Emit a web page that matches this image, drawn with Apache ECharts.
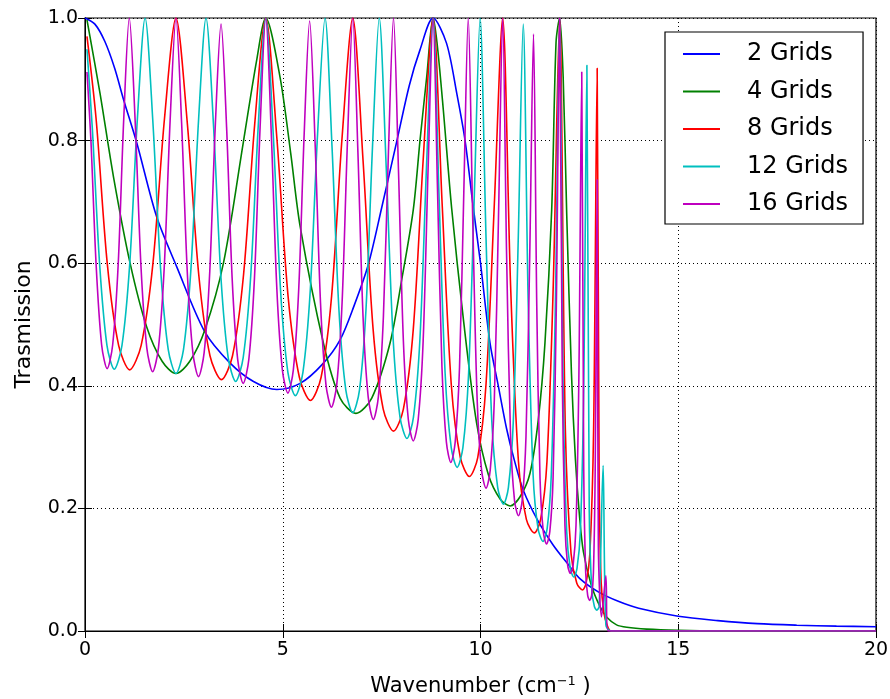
<!DOCTYPE html>
<html><head><meta charset="utf-8">
<script src="https://cdn.jsdelivr.net/npm/echarts@6/dist/echarts.min.js"></script>
<style>html,body{margin:0;padding:0;background:#fff}#c{width:890px;height:699px}</style>
</head><body><div id="c"></div>
<script>
const xTickValues=[0,5,10,15,20];
const yTickValues=[0,0.2,0.4,0.6,0.8,1.0];
const seriesNames=['2 Grids','4 Grids','8 Grids','12 Grids','16 Grids'];
const seriesColors=['#0000ff','#008000','#ff0000','#00bfbf','#bf00bf'];

const grids2=[[0,1.0],[0.25,0.99],[0.5,0.962],[0.75,0.918],[0.97,0.868],[1.31,0.796],[1.81,0.676],[2.32,0.594],[3.03,0.488],[3.67,0.437],[4.26,0.407],[4.85,0.394],[5.44,0.404],[6.0,0.435],[6.45,0.475],[6.8,0.53],[7.16,0.597],[7.5,0.69],[7.88,0.798],[8.2,0.89],[8.47,0.948],[8.8,1.0],[9.14,0.959],[9.4,0.877],[9.61,0.8],[9.8,0.70],[10.0,0.6],[10.24,0.47],[10.45,0.40],[10.66,0.33],[10.85,0.28],[11.08,0.23],[11.45,0.18],[11.84,0.14],[12.2,0.11],[12.52,0.085],[13.0,0.063],[13.5,0.048],[14,0.037],[15,0.024],[16,0.017],[17,0.012],[18,0.0095],[19,0.008],[20,0.007]];

const grids4=[[0.05,0.997],[0.38,0.877],[0.72,0.741],[1.14,0.6],[1.56,0.496],[1.95,0.44],[2.3,0.42],[2.65,0.44],[3.03,0.491],[3.5,0.6],[4.0,0.796],[4.34,0.931],[4.57,1.0],[4.93,0.904],[5.2,0.78],[5.44,0.66],[6.03,0.469],[6.45,0.38],[6.85,0.355],[7.25,0.38],[7.71,0.469],[8.0,0.57],[8.3,0.687],[8.47,0.80],[8.64,0.904],[8.8,1.0],[8.9,0.96],[9.06,0.85],[9.27,0.69],[9.57,0.507],[9.9,0.34],[10.2,0.255],[10.5,0.215],[10.75,0.204],[11.0,0.219],[11.25,0.257],[11.46,0.344],[11.63,0.47],[11.8,0.687],[11.91,0.96],[12.0,1.0],[12.09,0.904],[12.18,0.68],[12.3,0.42],[12.4,0.28],[12.5,0.19],[12.6,0.13],[12.8,0.075],[13.02,0.04],[13.2,0.022],[13.44,0.01],[13.7,0.006],[14.2,0.003],[15,0.001],[16,0],[20,0]];

const grids8=[[0.05,0.97],[0.28,0.836],[0.565,0.598],[0.85,0.466],[1.13,0.426],
[1.42,0.466],[1.715,0.598],[2.01,0.836],[2.3,1.0],
[2.59,0.826],[2.875,0.582],[3.16,0.449],[3.45,0.41],
[3.73,0.449],[4.01,0.582],[4.29,0.826],[4.57,1.0],
[4.85,0.805],[5.135,0.546],[5.42,0.414],[5.7,0.376],
[5.97,0.414],[6.235,0.546],[6.5,0.805],[6.77,1.0],
[7.03,0.768],[7.285,0.492],[7.54,0.362],[7.8,0.326],
[8.05,0.362],[8.3,0.492],[8.55,0.768],[8.8,1.0],
[9.03,0.697],[9.26,0.403],[9.49,0.283],[9.72,0.252],
[9.93,0.283],[10.14,0.403],[10.35,0.697],[10.56,1.0],
[10.76,0.565],[10.96,0.276],[11.16,0.182],[11.36,0.16],
[11.52,0.182],[11.68,0.276],[11.84,0.565],[12.0,1.0],
[12.145,0.329],[12.29,0.126],[12.435,0.078],[12.58,0.067],
[12.67,0.078],[12.765,0.126],[12.86,0.329],[12.95,0.918],
[13.0,0.25],[13.05,0.08],[13.12,0.03],[13.2,0.01],[13.3,0],[20,0]];

const grids12=[[0.05,0.949],[0.185,0.82],[0.37,0.598],[0.555,0.466],[0.74,0.427],
[0.935,0.466],[1.13,0.598],[1.325,0.836],[1.52,1.0],
[1.715,0.832],[1.91,0.592],[2.105,0.459],[2.3,0.42],
[2.49,0.459],[2.68,0.592],[2.87,0.832],[3.06,1.0],
[3.25,0.824],[3.435,0.579],[3.62,0.446],[3.81,0.407],
[4.0,0.446],[4.19,0.579],[4.38,0.824],[4.57,1.0],
[4.76,0.81],[4.945,0.555],[5.13,0.422],[5.32,0.384],
[5.51,0.422],[5.695,0.555],[5.88,0.81],[6.07,1.0],
[6.245,0.791],[6.42,0.525],[6.595,0.393],[6.77,0.356],
[6.94,0.393],[7.105,0.525],[7.27,0.791],[7.44,1.0],
[7.615,0.758],[7.79,0.478],[7.965,0.349],[8.14,0.314],
[8.305,0.349],[8.47,0.478],[8.635,0.758],[8.8,1.0],
[8.95,0.713],[9.105,0.421],[9.26,0.299],[9.41,0.267],
[9.555,0.299],[9.7,0.421],[9.845,0.713],[9.99,1.0],
[10.14,0.641],[10.285,0.343],[10.435,0.234],[10.58,0.207],
[10.705,0.234],[10.83,0.343],[10.955,0.641],[11.08,0.99],
[11.205,0.539],[11.33,0.255],[11.455,0.167],[11.58,0.146],
[11.685,0.167],[11.79,0.255],[11.895,0.539],[12.0,1.0],
[12.09,0.397],[12.18,0.162],[12.27,0.102],[12.36,0.088],
[12.44,0.102],[12.525,0.162],[12.61,0.397],[12.69,0.923],
[12.75,0.194],[12.815,0.066],[12.88,0.04],[12.94,0.034],
[13.0,0.04],[13.1,0.27],[13.17,0.01],[13.3,0],[20,0]];

const grids16=[[0.05,0.912],[0.15,0.80],[0.28,0.599],[0.42,0.467],[0.56,0.428],
[0.70,0.467],[0.84,0.599],[0.98,0.836],[1.12,1.0],
[1.2675,0.833],[1.415,0.595],[1.5625,0.462],[1.71,0.423],
[1.8575,0.462],[2.005,0.595],[2.1525,0.833],[2.3,1.0],
[2.4425,0.829],[2.585,0.587],[2.7275,0.454],[2.87,0.415],
[3.0125,0.454],[3.155,0.587],[3.2975,0.829],[3.44,0.99],
[3.58,0.822],[3.72,0.576],[3.86,0.443],[4.0,0.404],
[4.1425,0.443],[4.285,0.576],[4.4275,0.822],[4.57,1.0],
[4.71,0.812],[4.85,0.559],[4.99,0.426],[5.13,0.388],
[5.2675,0.426],[5.405,0.559],[5.5425,0.812],[5.68,0.995],
[5.8175,0.797],[5.955,0.535],[6.0925,0.402],[6.23,0.365],
[6.365,0.402],[6.5,0.535],[6.635,0.797],[6.77,1.0],
[6.9,0.782],[7.03,0.513],[7.16,0.382],[7.29,0.345],
[7.4175,0.382],[7.545,0.513],[7.6725,0.782],[7.8,1.0],
[7.925,0.754],[8.05,0.473],[8.175,0.345],[8.3,0.31],
[8.425,0.345],[8.55,0.473],[8.675,0.754],[8.8,1.0],
[8.9125,0.722],[9.025,0.431],[9.1375,0.308],[9.25,0.275],
[9.36,0.308],[9.47,0.431],[9.58,0.722],[9.69,1.0],
[9.8025,0.675],[9.915,0.378],[10.0275,0.262],[10.14,0.233],
[10.245,0.262],[10.35,0.378],[10.455,0.675],[10.56,1.0],
[10.66,0.613],[10.76,0.317],[10.86,0.213],[10.96,0.188],
[11.055,0.213],[11.15,0.317],[11.245,0.613],[11.34,0.974],
[11.4225,0.531],[11.505,0.249],[11.5875,0.162],[11.67,0.142],
[11.7525,0.162],[11.835,0.249],[11.9175,0.531],[12.0,1.0],
[12.0675,0.415],[12.135,0.172],[12.2025,0.108],[12.27,0.094],
[12.3425,0.108],[12.415,0.172],[12.4875,0.415],[12.56,0.912],
[12.61,0.264],[12.66,0.095],[12.71,0.058],[12.76,0.05],
[12.81,0.058],[12.855,0.095],[12.9,0.264],[12.95,0.736],
[12.98,0.138],[13.06,0.023],[13.17,0.09],[13.22,0],[20,0]];

const allData=[grids2,grids4,grids8,grids12,grids16];
const FONT='DejaVu Sans';
const chart=echarts.init(document.getElementById('c'),null,{renderer:'canvas'});
const axisBase={type:'value',axisLine:{show:true,lineStyle:{color:'#000',width:1}},
  axisTick:{show:true,inside:true,length:7,lineStyle:{color:'#000',width:1}}};
chart.setOption({
  animation:false,
  backgroundColor:'#fff',
  grid:{left:85,top:18,width:791,height:613,show:true,borderColor:'#000',borderWidth:1.2,outerBoundsMode:'none',containLabel:false},
  xAxis:[
    Object.assign({},axisBase,{min:xTickValues[0],max:xTickValues[xTickValues.length-1],interval:5,position:'bottom',
      axisLabel:{color:'#000',fontSize:19,fontFamily:FONT,margin:10},
      splitLine:{show:true,lineStyle:{color:'#000',type:[1,3],width:1}},
      name:'{a|Wavenumber (cm}{b|\u22121}{a| )}',nameLocation:'middle',nameGap:44,
      nameTextStyle:{rich:{a:{fontSize:21,fontFamily:FONT,color:'#000',lineHeight:24},b:{fontSize:13,fontFamily:FONT,color:'#000',verticalAlign:'top',lineHeight:13}}}}),
    Object.assign({},axisBase,{min:0,max:20,interval:5,position:'top',axisLabel:{show:false},splitLine:{show:false}})
  ],
  yAxis:[
    Object.assign({},axisBase,{min:yTickValues[0],max:yTickValues[yTickValues.length-1],interval:0.2,position:'left',
      axisLabel:{color:'#000',fontSize:19,fontFamily:FONT,margin:7,formatter:v=>v.toFixed(1)},
      splitLine:{show:true,lineStyle:{color:'#000',type:[1,3],width:1}},
      name:'Trasmission',nameLocation:'middle',nameGap:50,nameRotate:90,
      nameTextStyle:{fontSize:22,fontFamily:FONT,color:'#000'}}),
    Object.assign({},axisBase,{min:0,max:1,interval:0.2,position:'right',axisLabel:{show:false},splitLine:{show:false}})
  ],
  legend:{orient:'vertical',left:665,top:32,padding:[10,15,8,18],itemWidth:37,itemHeight:2,itemGap:13.5,icon:'rect',
    backgroundColor:'#fff',borderColor:'#000',borderWidth:1.2,borderRadius:0,
    textStyle:{fontSize:24,fontFamily:FONT,color:'#000',lineHeight:24,padding:[0,0,0,22]},
    data:seriesNames},
  series:seriesNames.map((n,i)=>({type:'line',name:n,data:allData[i],symbol:'none',smooth:0.3,
    lineStyle:{color:seriesColors[i],width:1.6},itemStyle:{color:seriesColors[i]},z:2+i}))
});
</script></body></html>
